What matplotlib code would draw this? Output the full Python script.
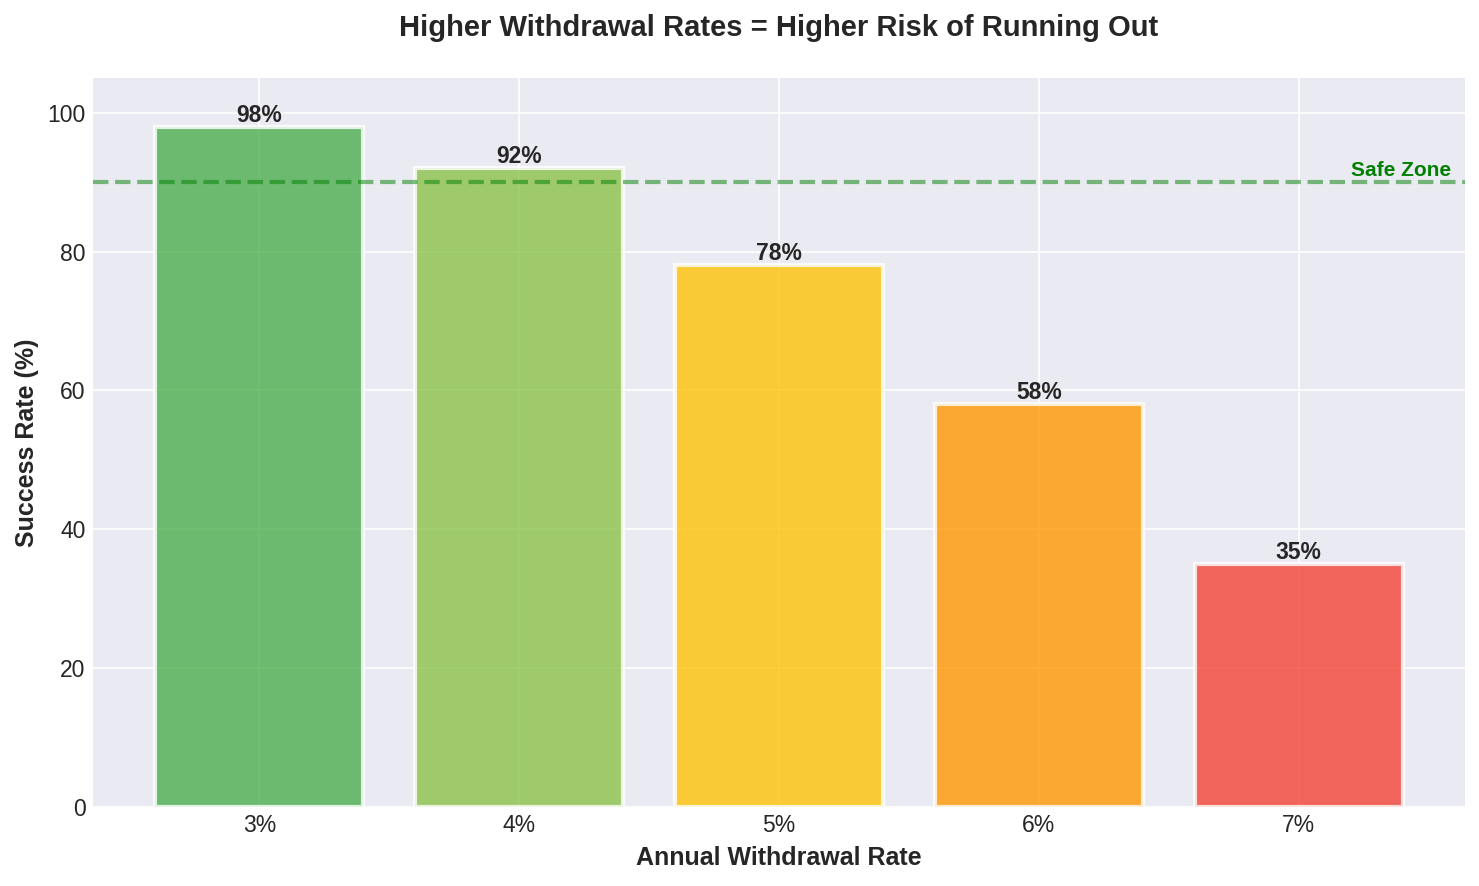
import matplotlib
matplotlib.use('Agg')
import matplotlib.pyplot as plt

plt.style.use('seaborn-v0_8-darkgrid')
plt.rcParams['font.family'] = ['Liberation Sans', 'DejaVu Sans']

rates = ['3%', '4%', '5%', '6%', '7%']
success = [98, 92, 78, 58, 35]
colors = ['#4CAF50', '#8BC34A', '#FFC107', '#FF9800', '#F44336']
safe_level = 90

fig, ax = plt.subplots(figsize=(9.86, 5.907), dpi=150)
fig.subplots_adjust(left=93/1479, right=1465/1479, top=1-78/886, bottom=1-807/886)

bars = ax.bar(rates, success, color=colors, alpha=0.8, edgecolor='white', linewidth=2)
for bar, val in zip(bars, success):
    ax.text(bar.get_x() + bar.get_width() / 2, val, f'{val}%',
            ha='center', va='bottom', fontsize=11, fontweight='bold', color='#262626')

ax.axhline(safe_level, color='green', linestyle='--', linewidth=2, alpha=0.5)
ax.text(4.2, safe_level + 0.9, 'Safe Zone', color='green', fontsize=10, fontweight='bold')

ax.set_ylim(0, 105)
ax.set_title('Higher Withdrawal Rates = Higher Risk of Running Out',
             fontsize=14, fontweight='bold', pad=20, color='#262626')
ax.set_xlabel('Annual Withdrawal Rate', fontsize=12, fontweight='bold')
ax.set_ylabel('Success Rate (%)', fontsize=12, fontweight='bold')
ax.tick_params(labelsize=11)

fig.savefig('out.png', dpi=150)
